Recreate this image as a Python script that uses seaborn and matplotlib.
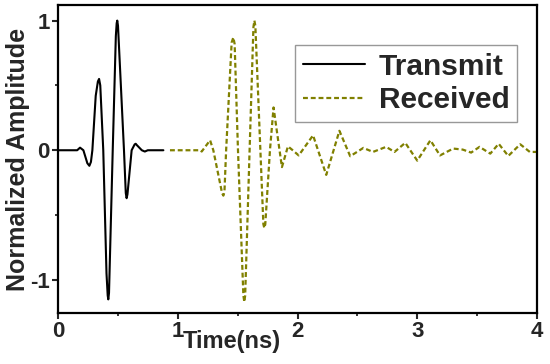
import matplotlib
matplotlib.use("Agg")
import matplotlib.pyplot as plt
import seaborn as sns
import pandas as pd
from matplotlib.ticker import MultipleLocator

# ---- data ----
transmit_t = [0.00, 0.16, 0.184, 0.212, 0.245, 0.262, 0.275, 0.287, 0.315, 0.333, 0.343, 0.353,
              0.378, 0.405, 0.415, 0.420, 0.426, 0.457, 0.483, 0.490, 0.495, 0.501, 0.551,
              0.566, 0.573, 0.580, 0.615, 0.640, 0.649, 0.658, 0.700, 0.725, 0.750, 0.880]
transmit_a = [0.00, 0.00, 0.02, 0.00, -0.10, -0.12, -0.09, 0.00, 0.42, 0.53, 0.55, 0.50,
              0.00, -0.95, -1.12, -1.15, -1.10, 0.00, 0.88, 0.98, 1.00, 0.96, 0.00,
              -0.33, -0.37, -0.34, 0.00, 0.045, 0.05, 0.04, 0.00, -0.01, 0.00, 0.00]

received_t = [0.935, 1.19, 1.20, 1.27, 1.297, 1.37, 1.381, 1.39, 1.404, 1.45, 1.464, 1.475,
              1.503, 1.548, 1.556, 1.563, 1.600, 1.632, 1.640, 1.648, 1.690, 1.715, 1.723,
              1.731, 1.770, 1.80, 1.85, 1.87, 1.92, 1.96, 2.01, 2.13, 2.24, 2.35, 2.44,
              2.55, 2.63, 2.74, 2.81, 2.90, 3.00, 3.11, 3.19, 3.30, 3.38, 3.45, 3.52,
              3.61, 3.68, 3.76, 3.86, 3.94, 4.00]
received_a = [0.00, 0.00, -0.01, 0.077, 0.00, -0.33, -0.35, -0.32, 0.00, 0.83, 0.87, 0.82,
              0.00, -1.12, -1.17, -1.12, 0.00, 0.95, 1.00, 0.96, 0.00, -0.57, -0.60,
              -0.57, 0.00, 0.33, 0.00, -0.13, 0.03, 0.00, -0.04, 0.115, -0.19, 0.15, -0.046,
              0.018, -0.013, 0.026, -0.013, 0.057, -0.08, 0.077, -0.04, 0.013, 0.005, -0.018, 0.026,
              -0.026, 0.05, -0.044, 0.046, -0.013, -0.013]

x_ticks = [0, 1, 2, 3, 4]
y_ticks = [-1, 0, 1]

df_t = pd.DataFrame({"Time": transmit_t, "Amp": transmit_a})
df_r = pd.DataFrame({"Time": received_t, "Amp": received_a})

sns.set_style("ticks")
plt.rcParams["font.family"] = ["Liberation Sans", "DejaVu Sans"]
plt.rcParams["font.weight"] = "bold"
plt.rcParams["axes.unicode_minus"] = False

fig = plt.figure(figsize=(5.5, 3.64), dpi=100)
ax = fig.add_axes([58 / 550, 51 / 364, 479 / 550, 308 / 364])

sns.lineplot(data=df_t, x="Time", y="Amp", ax=ax, color="black", lw=1.5,
             label="Transmit", sort=False, estimator=None)
sns.lineplot(data=df_r, x="Time", y="Amp", ax=ax, color="#808000", lw=1.6,
             label="Received", sort=False, estimator=None, dashes=False)
ax.lines[1].set_dashes([2.2, 1.3])

ax.set_xlim(0, 4)
ax.set_ylim(-1.255, 1.12)
ax.set_xticks(x_ticks)
ax.set_yticks(y_ticks)
ax.xaxis.set_minor_locator(MultipleLocator(0.5))
ax.yaxis.set_minor_locator(MultipleLocator(0.5))
ax.tick_params(which="major", direction="out", length=4, width=1.5, labelsize=16, pad=2)
ax.tick_params(which="minor", direction="out", length=2.5, width=1.3)
for lab in ax.get_xticklabels() + ax.get_yticklabels():
    lab.set_fontweight("bold")
for s in ax.spines.values():
    s.set_visible(True)
    s.set_linewidth(1.6)
    s.set_color("black")

ax.set_xlabel("Time(ns)", fontsize=17, fontweight="bold")
ax.xaxis.set_label_coords(1.45 / 4, -0.055)
ax.set_ylabel("Normalized Amplitude", fontsize=18, fontweight="bold")
ax.yaxis.set_label_coords(-0.058, 0.5)

leg = ax.legend(loc="upper right", bbox_to_anchor=(0.958, 0.870), borderaxespad=0,
                fancybox=False, frameon=True, handlelength=2.1, handletextpad=0.45,
                labelspacing=0.2, borderpad=0.25,
                prop={"family": "Liberation Sans", "weight": "bold", "size": 21.5})
leg.get_frame().set_edgecolor("#7f7f7f")
leg.get_frame().set_linewidth(1.0)
leg.get_lines()[1].set_dashes([2.2, 1.3])

fig.savefig("out.png", dpi=100)
